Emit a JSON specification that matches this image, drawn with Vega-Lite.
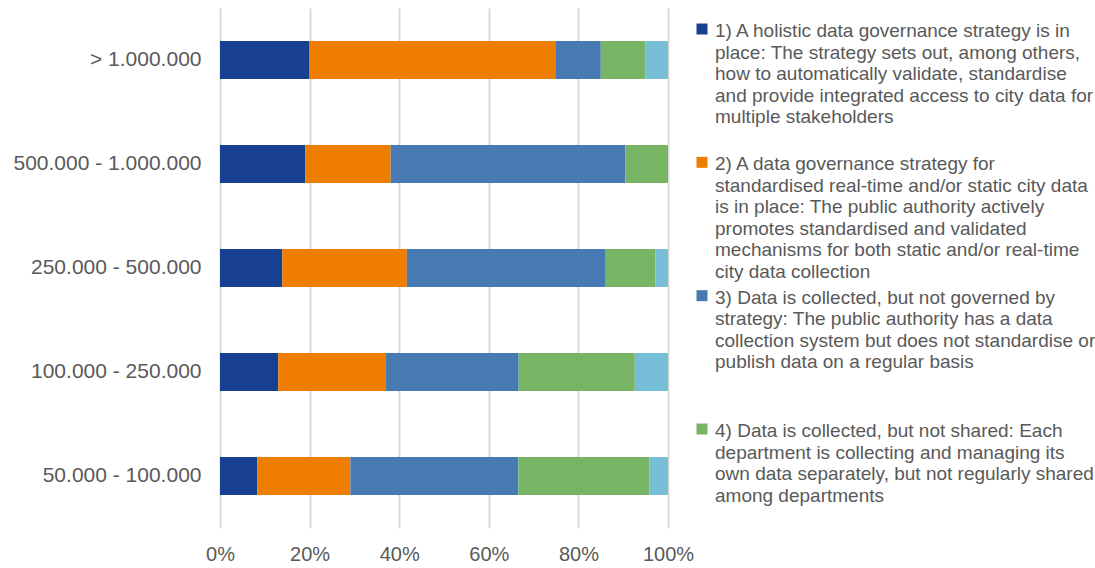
{
  "$schema": "https://vega.github.io/schema/vega-lite/v6.json",
  "padding": {"left": 13, "top": 8, "right": 0, "bottom": 5},
  "background": "white",
  "bounds": "flush",
  "spacing": 24,
  "config": {"view": {"stroke": null}, "font": "Liberation Sans"},
  "hconcat": [
    {
      "width": 448,
      "height": 520,
      "data": {
        "values": [
          {"size": "> 1.000.000", "level": "1) Holistic strategy", "share": 20},
          {"size": "> 1.000.000", "level": "2) Strategy for standardised data", "share": 55},
          {"size": "> 1.000.000", "level": "3) Collected, not governed", "share": 10},
          {"size": "> 1.000.000", "level": "4) Collected, not shared", "share": 10},
          {"size": "> 1.000.000", "level": "5) Other", "share": 5},
          {"size": "500.000 - 1.000.000", "level": "1) Holistic strategy", "share": 19.05},
          {"size": "500.000 - 1.000.000", "level": "2) Strategy for standardised data", "share": 19.05},
          {"size": "500.000 - 1.000.000", "level": "3) Collected, not governed", "share": 52.38},
          {"size": "500.000 - 1.000.000", "level": "4) Collected, not shared", "share": 9.52},
          {"size": "500.000 - 1.000.000", "level": "5) Other", "share": 0},
          {"size": "250.000 - 500.000", "level": "1) Holistic strategy", "share": 13.9},
          {"size": "250.000 - 500.000", "level": "2) Strategy for standardised data", "share": 27.8},
          {"size": "250.000 - 500.000", "level": "3) Collected, not governed", "share": 44.4},
          {"size": "250.000 - 500.000", "level": "4) Collected, not shared", "share": 11.1},
          {"size": "250.000 - 500.000", "level": "5) Other", "share": 2.8},
          {"size": "100.000 - 250.000", "level": "1) Holistic strategy", "share": 13.0},
          {"size": "100.000 - 250.000", "level": "2) Strategy for standardised data", "share": 24.0},
          {"size": "100.000 - 250.000", "level": "3) Collected, not governed", "share": 29.6},
          {"size": "100.000 - 250.000", "level": "4) Collected, not shared", "share": 25.9},
          {"size": "100.000 - 250.000", "level": "5) Other", "share": 7.4},
          {"size": "50.000 - 100.000", "level": "1) Holistic strategy", "share": 8.3},
          {"size": "50.000 - 100.000", "level": "2) Strategy for standardised data", "share": 20.8},
          {"size": "50.000 - 100.000", "level": "3) Collected, not governed", "share": 37.5},
          {"size": "50.000 - 100.000", "level": "4) Collected, not shared", "share": 29.2},
          {"size": "50.000 - 100.000", "level": "5) Other", "share": 4.2}
        ]
      },
      "mark": {"type": "bar"},
      "encoding": {
        "y": {
          "field": "size",
          "type": "nominal",
          "sort": ["> 1.000.000", "500.000 - 1.000.000", "250.000 - 500.000", "100.000 - 250.000", "50.000 - 100.000"],
          "scale": {"paddingInner": 0.636, "paddingOuter": 0.318},
          "axis": {"title": null, "domain": false, "ticks": false, "labelPadding": 19, "labelFontSize": 21, "labelLimit": 400, "labelColor": "#595959", "labelFont": "Liberation Sans"}
        },
        "x": {
          "field": "share",
          "type": "quantitative",
          "stack": "normalize",
          "scale": {"domain": [0, 1]},
          "axis": {"title": null, "format": ".0%", "values": [0, 0.2, 0.4, 0.6, 0.8, 1], "labelFlush": false, "labelOverlap": false, "grid": true, "gridColor": "#d9d9d9", "gridWidth": 2, "domain": false, "ticks": false, "labelPadding": 16, "labelFontSize": 20, "labelColor": "#595959", "labelFont": "Liberation Sans"}
        },
        "color": {
          "field": "level",
          "type": "nominal",
          "scale": {
            "domain": ["1) Holistic strategy", "2) Strategy for standardised data", "3) Collected, not governed", "4) Collected, not shared", "5) Other"],
            "range": ["#174090", "#EF7D00", "#477AB2", "#77B565", "#76BDD8"]
          },
          "legend": null
        },
        "order": {"field": "level", "sort": "ascending"}
      }
    },
    {
      "width": 20,
      "height": 400,
      "data": {
        "values": [
          {"level": "1) Holistic strategy", "label": "1) A holistic data governance strategy is in\nplace: The strategy sets out, among others,\nhow to automatically validate, standardise\nand provide integrated access to city data for\nmultiple stakeholders"},
          {"level": "2) Strategy for standardised data", "label": "2) A data governance strategy for\nstandardised real-time and/or static city data\nis in place: The public authority actively\npromotes standardised and validated\nmechanisms for both static and/or real-time\ncity data collection"},
          {"level": "3) Collected, not governed", "label": "3) Data is collected, but not governed by\nstrategy: The public authority has a data\ncollection system but does not standardise or\npublish data on a regular basis"},
          {"level": "4) Collected, not shared", "label": "4) Data is collected, but not shared: Each\ndepartment is collecting and managing its\nown data separately, but not regularly shared\namong departments"}
        ]
      },
      "encoding": {
        "y": {
          "field": "level",
          "type": "nominal",
          "sort": null,
          "scale": {"type": "point", "padding": 0},
          "axis": null
        }
      },
      "layer": [
        {
          "mark": {"type": "square", "size": 121, "opacity": 1, "yOffset": 21},
          "encoding": {
            "color": {
              "field": "level",
              "type": "nominal",
              "scale": {
                "domain": ["1) Holistic strategy", "2) Strategy for standardised data", "3) Collected, not governed", "4) Collected, not shared", "5) Other"],
                "range": ["#174090", "#EF7D00", "#477AB2", "#77B565", "#76BDD8"]
              },
              "legend": null
            }
          }
        },
        {
          "mark": {"type": "text", "align": "left", "baseline": "top", "dx": 13, "dy": 14, "fontSize": 19, "lineHeight": 21.5, "lineBreak": "\n", "color": "#595959", "font": "Liberation Sans"},
          "encoding": {"text": {"field": "label"}}
        }
      ]
    }
  ]
}
